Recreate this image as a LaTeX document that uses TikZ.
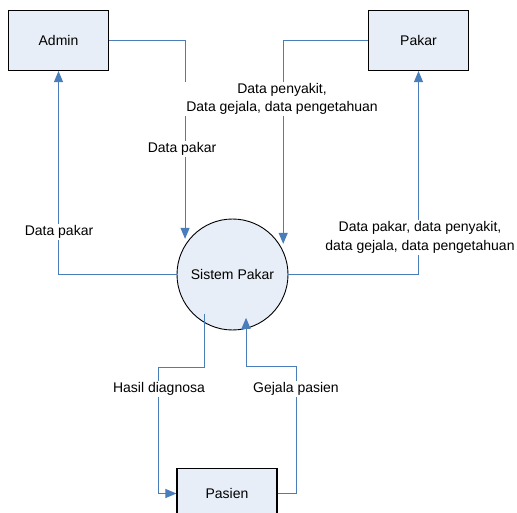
\documentclass[tikz,border=0pt]{standalone}
\usepackage{fontspec}
\setmainfont{Liberation Sans}
\usepackage{xcolor}
\usetikzlibrary{arrows.meta}

\definecolor{boxfill}{RGB}{232,238,247}
\definecolor{flowblue}{RGB}{74,126,187}

\tikzset{
	entity/.style={fill=boxfill, draw=black, line width=1.1pt, shape=rectangle, minimum width=100pt, minimum height=60pt, font=\fontsize{14}{18}\selectfont},
	process/.style={fill=boxfill, draw=black, line width=0.9pt, shape=circle, minimum size=111pt, inner sep=0pt, font=\fontsize{14}{18}\selectfont},
	flow/.style={draw=flowblue, line width=1pt, -{Triangle[length=11pt,width=9pt]}},
	lbl/.style={fill=white, inner sep=1.5pt, align=center, font=\fontsize{14}{18.5}\selectfont}
}

\begin{document}
\begin{tikzpicture}[x=1pt, y=-1pt]
	\useasboundingbox (0,0) rectangle (517,513);
	\node [entity] (admin) at (58.5, 40.5) {Admin};
	\node [entity] (pakar) at (418.5, 40.5) {Pakar};
	\node [process] (sys) at (232.5, 274.5) {Sistem Pakar};
	\node [entity, minimum height=50pt] (pasien) at (227, 493.5) {Pasien};
	\coordinate (t1) at (158.5, 367.5);
	\coordinate (t2) at (296.5, 366.5);
	\draw [flow, shorten >=6pt] (admin.east) -| (sys.148);
	\draw [flow, shorten >=7pt] (pakar.west) -| (sys.25);
	\draw [flow] (sys.west) -| (admin.south);
	\draw [flow] (sys.east) -| (pakar.south);
	\draw [flow, shorten <=-9pt] (sys.240) |- (t1) |- (pasien.west);
	\draw [flow, shorten >=-11pt] (pasien.east) -| (t2) -| (sys.284);
	\node [lbl] (l1) at (182, 149) {Data pakar};
	\node [lbl] (l2) at (282, 99) {Data penyakit,\\Data gejala, data pengetahuan};
	\node [lbl] (l3) at (59, 232) {Data pakar};
	\node [lbl] (l4) at (420, 237.5) {Data pakar, data penyakit,\\data gejala, data pengetahuan};
	\node [lbl] (l5) at (159, 389) {Hasil diagnosa};
	\node [lbl] (l6) at (296, 389) {Gejala pasien};
\end{tikzpicture}
\end{document}
